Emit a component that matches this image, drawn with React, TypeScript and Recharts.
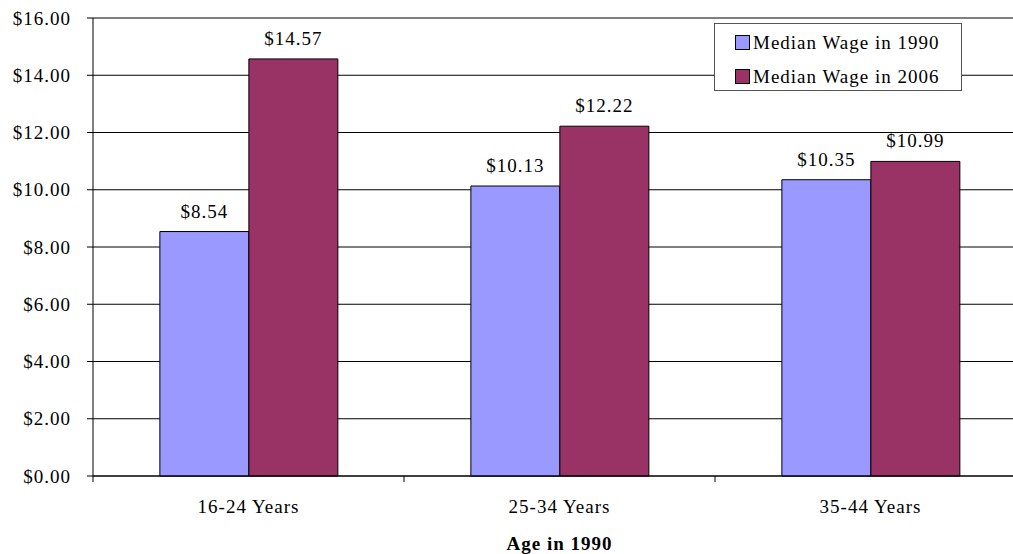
import { BarChart, Bar, XAxis, YAxis, CartesianGrid, Legend, LabelList, ReferenceLine } from "recharts";

const ageGroups = ["16-24 Years", "25-34 Years", "35-44 Years"];
const wage1990 = [8.54, 10.13, 10.35];
const wage2006 = [14.57, 12.22, 10.99];
const yTicks = [0, 2, 4, 6, 8, 10, 12, 14, 16];

const data = ageGroups.map((age, i) => ({
  age,
  w1990: wage1990[i],
  w2006: wage2006[i],
}));

const CHART_W = 1040;
const Y_AXIS_W = 93;
const RIGHT_M = 14;
const BAND = (CHART_W - Y_AXIS_W - RIGHT_M) / ageGroups.length;
const TICK_SIZE = 6;
const TICK_MARGIN = 18;
const FONT = "'Liberation Serif', 'Times New Roman', serif";

const money = (v: number) => `$${Number(v).toFixed(2)}`;

function CategoryTick(props: any) {
  const { x, y, payload } = props;
  const edge = x - BAND / 2;
  const top = y - TICK_MARGIN;
  return (
    <g>
      <line x1={edge} x2={edge} y1={top - TICK_SIZE} y2={top} stroke="#000" />
      <text x={x} y={y} dy="0.71em" textAnchor="middle" fill="#000" fontSize={19} fontFamily={FONT}>
        {payload.value}
      </text>
    </g>
  );
}

function LegendBox(props: any) {
  const items = props.payload || [];
  return (
    <div
      style={{
        border: "1px solid #555",
        background: "#fff",
        width: 248,
        height: 68,
        boxSizing: "border-box",
        padding: "5px 0 0 20px",
        fontFamily: FONT,
        fontSize: 19,
        letterSpacing: 1,
        color: "#000",
      }}
    >
      {items.map((it: any) => (
        <div key={it.value} style={{ display: "flex", alignItems: "center", height: 27, marginBottom: 7 }}>
          <span
            style={{
              display: "inline-block",
              width: 13,
              height: 13,
              background: it.color,
              border: "1px solid #000",
              marginRight: 3,
            }}
          />
          {it.value}
        </div>
      ))}
    </div>
  );
}

export default function App() {
  return (
    <div
      style={{
        position: "fixed",
        left: 0,
        top: 0,
        width: 1013,
        height: 554,
        overflow: "hidden",
        background: "#fff",
        fontFamily: FONT,
        letterSpacing: "1px",
      }}
    >
      <BarChart
        width={CHART_W}
        height={554}
        data={data}
        margin={{ top: 18, right: RIGHT_M, left: 0, bottom: 0 }}
        barCategoryGap="21.5%"
        barGap={0}
      >
        <CartesianGrid vertical={false} stroke="#000" strokeOpacity={1} />
        <ReferenceLine y={16} stroke="#808080" />
        <XAxis
          dataKey="age"
          height={78}
          axisLine={{ stroke: "#000" }}
          tickLine={false}
          tickSize={TICK_SIZE}
          tickMargin={TICK_MARGIN}
          interval={0}
          tick={<CategoryTick />}
          label={{
            value: "Age in 1990",
            position: "insideBottom",
            offset: 4,
            fill: "#000",
            fontSize: 19,
            fontWeight: "bold",
          }}
        />
        <YAxis
          width={Y_AXIS_W}
          domain={[0, 16]}
          ticks={yTicks}
          interval={0}
          tickFormatter={money}
          axisLine={{ stroke: "#000" }}
          tickLine={{ stroke: "#000" }}
          tickSize={TICK_SIZE}
          tickMargin={16}
          tick={{ fill: "#000", fontSize: 19 }}
        />
        <Legend
          layout="horizontal"
          verticalAlign="middle"
          align="center"
          content={<LegendBox />}
          wrapperStyle={{ left: 714, top: 23, width: 248, height: 68 }}
        />
        <Bar dataKey="w1990" name="Median Wage in 1990" fill="#9999FF" stroke="#000" strokeWidth={1} isAnimationActive={false}>
          <LabelList dataKey="w1990" position="top" offset={14} formatter={money} fill="#000" fontSize={19} />
        </Bar>
        <Bar dataKey="w2006" name="Median Wage in 2006" fill="#993366" stroke="#000" strokeWidth={1} isAnimationActive={false}>
          <LabelList dataKey="w2006" position="top" offset={14} formatter={money} fill="#000" fontSize={19} />
        </Bar>
      </BarChart>
    </div>
  );
}
